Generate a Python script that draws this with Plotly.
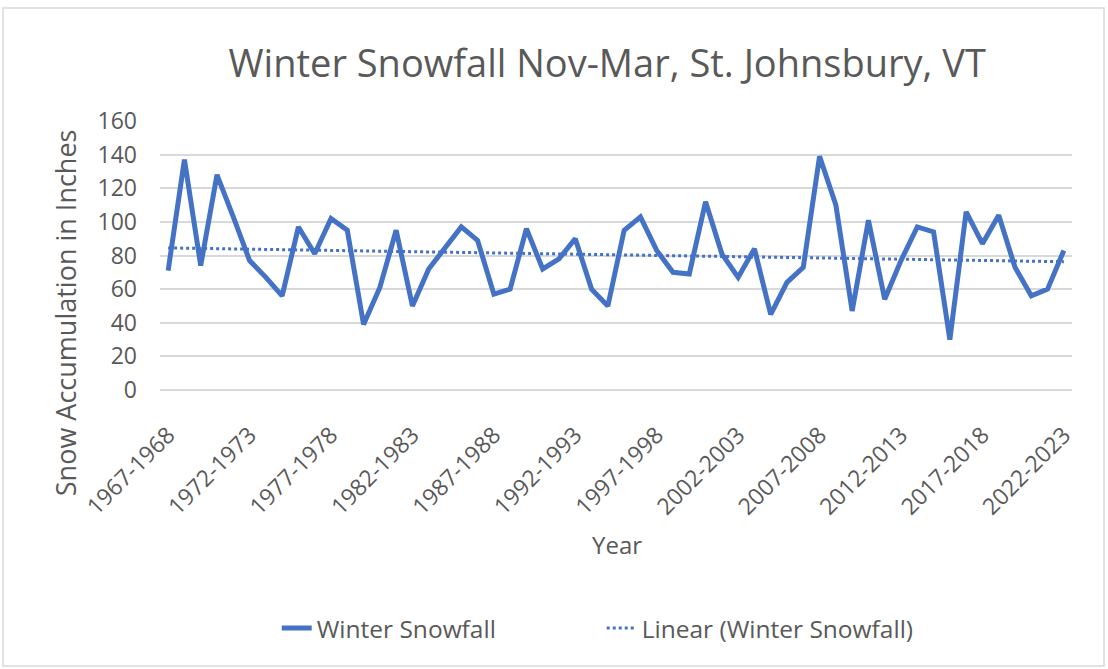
import plotly.graph_objects as go
import numpy as np

# Winter seasons 1967-1968 ... 2022-2023
start_years = list(range(1967, 2023))
seasons = [f"{y}-{y + 1}" for y in start_years]

# Snowfall Nov-Mar in inches
snowfall = [71, 137, 74, 128, 103, 77, 67, 56, 97, 81,
            102, 95, 39, 61, 95, 50, 72, 85, 97, 89,
            57, 60, 96, 72, 78, 90, 60, 50, 95, 103,
            83, 70, 69, 112, 81, 67, 84, 45, 64, 73,
            139, 110, 47, 101, 54, 77, 97, 94, 30, 106,
            87, 104, 73, 56, 60, 83]

tick_labels = seasons[::5]

# Excel-style linear trendline
idx = np.arange(len(snowfall))
slope, intercept = np.polyfit(idx, snowfall, 1)
trend = slope * idx + intercept

blue = "#4472C4"
grey = "#595959"
font = "Open Sans"

fig = go.Figure()
fig.add_trace(go.Scatter(x=seasons, y=snowfall, mode="lines", name="Winter Snowfall",
                         line=dict(color=blue, width=5)))
fig.add_trace(go.Scatter(x=seasons, y=trend, mode="lines", name="Linear (Winter Snowfall)",
                         line=dict(color=blue, width=3, dash="dot")))

fig.update_layout(
    width=1108, height=669,
    margin=dict(l=160, r=36, t=121, b=279),
    plot_bgcolor="white", paper_bgcolor="white",
    font=dict(family=font, color=grey),
    title=dict(text="Winter Snowfall Nov-Mar, St. Johnsbury, VT", x=0.548, xanchor="center",
               y=0.905, yanchor="middle", font=dict(size=38, color=grey, family=font)),
    xaxis=dict(type="category", range=[-0.5, len(seasons) - 0.5], automargin=False,
               tickmode="array", tickvals=tick_labels, ticktext=tick_labels,
               tickangle=-45, tickfont=dict(size=23, color=grey), ticklabelstandoff=26,
               showgrid=False, showline=False, ticks=""),
    yaxis=dict(range=[0, 160], dtick=20, automargin=False,
               showgrid=True, gridcolor="#D9D9D9", gridwidth=1.5,
               zeroline=True, zerolinecolor="#D9D9D9", zerolinewidth=1.5,
               tickfont=dict(size=23, color=grey), ticklabelstandoff=22),
    legend=dict(orientation="h", x=0.128, xanchor="left", y=-0.885, yanchor="middle",
                font=dict(size=24.5, color=grey), entrywidth=280, entrywidthmode="pixels"),
    annotations=[
        dict(text="Snow Accumulation in Inches", xref="paper", yref="paper",
             x=-0.104, y=0.286, xanchor="center", yanchor="middle", textangle=-90,
             showarrow=False, font=dict(size=27, color=grey)),
        dict(text="Year", xref="paper", yref="paper", x=0.501, y=-0.576,
             xanchor="center", yanchor="middle", showarrow=False,
             font=dict(size=24, color=grey)),
    ],
    shapes=[dict(type="rect", xref="paper", yref="paper",
                 x0=(3 - 160) / 912, x1=(1104 - 160) / 912,
                 y0=(390 - 666) / 269, y1=(390 - 8) / 269,
                 line=dict(color="#D9D9D9", width=1.5), fillcolor="rgba(0,0,0,0)",
                 layer="below")],
)

fig.write_html("out.html", config={"displayModeBar": False},
               post_script="document.body.style.margin='0';")
